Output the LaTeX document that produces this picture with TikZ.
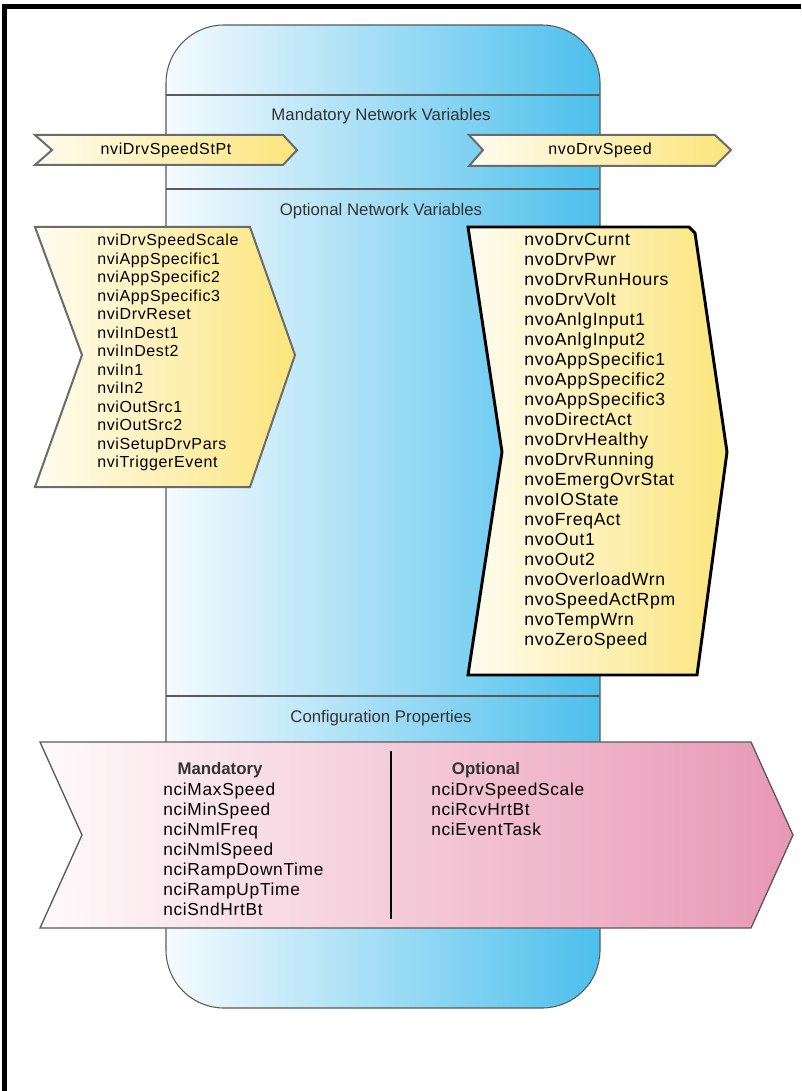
\documentclass[tikz,border=0pt]{standalone}
\usepackage{fontspec}
\setmainfont{Liberation Sans}
\newfontfamily\listfont[LetterSpace=4]{Liberation Sans}
\usetikzlibrary{positioning}
\definecolor{capleft}{HTML}{F6FBFE}
\definecolor{capright}{HTML}{4CBFEC}
\definecolor{yelleft}{HTML}{FFFCF0}
\definecolor{yelright}{HTML}{FBE57C}
\definecolor{pinkleft}{HTML}{FFFAFB}
\definecolor{pinkright}{HTML}{E898B4}
\definecolor{edgegray}{HTML}{5A5A5A}
\definecolor{headgray}{HTML}{333333}
\begin{document}
\begin{tikzpicture}[x=0.75pt,y=-0.75pt,
    capsule/.style={draw=edgegray,line width=0.8pt,left color=capleft,right color=capright,rounded corners=43.5pt},
    head/.style={anchor=base,inner sep=0pt,text=headgray,font=\fontsize{12.6pt}{15pt}\selectfont},
    yelarrow/.style={draw=edgegray!90,line width=1.5pt,left color=yelleft,right color=yelright},
    pinkarrow/.style={draw=edgegray,line width=1pt,left color=pinkleft,right color=pinkright},
    nvlist/.style={anchor=north west,inner sep=0pt,align=left}]
    \useasboundingbox (0,0) rectangle (801,1091);
    % frame
    \draw[line width=3.6pt] (4.5,1091) -- (4.5,6.5) -- (801,6.5);
    % device body
    \path[capsule] (166,25) rectangle (600,1008);
    \draw[edgegray,line width=0.8pt] (166,95) -- (600,95);
    \draw[edgegray,line width=0.8pt] (166,189) -- (600,189);
    \draw[edgegray,line width=0.8pt] (166,696) -- (600,696);
    \node[head] (mandnv) at (381,121) {Mandatory Network Variables};
    \node[head] (optnv) at (381,215) {Optional Network Variables};
    \node[head] (cfgprop) at (381,722) {Configuration Properties};
    % mandatory variables
    \path[yelarrow] (35,135) -- (283,135) -- (297,150) -- (283,165) -- (35,165) -- (52,150) -- cycle;
    \path[yelarrow] (469,135) -- (715,135) -- (731,150) -- (715,166) -- (469,166) -- (483,150) -- cycle;
    \node[anchor=base,inner sep=0pt,font=\listfont\fontsize{12pt}{14pt}\selectfont] (spdstpt) at (166,155) {nviDrvSpeedStPt};
    \node[anchor=base,inner sep=0pt,font=\listfont\fontsize{12pt}{14pt}\selectfont] (drvspd) at (600,155) {nvoDrvSpeed};
    % optional inputs
    \path[yelarrow] (35,227) -- (250,227) -- (295,355) -- (250,487) -- (35,487) -- (82,355) -- cycle;
    \node[nvlist,font=\listfont\fontsize{12pt}{13.875pt}\selectfont] (nvilist) at (97,234)
        {nviDrvSpeedScale\\nviAppSpecific1\\nviAppSpecific2\\nviAppSpecific3\\nviDrvReset\\nviInDest1\\nviInDest2\\nviIn1\\nviIn2\\nviOutSrc1\\nviOutSrc2\\nviSetupDrvPars\\nviTriggerEvent};
    % optional outputs
    \path[yelarrow,draw=black,line width=2.2pt] (468,227) -- (689,227) -- (695,233) -- (727,452) -- (697,675) -- (468,675) -- (502,452) -- cycle;
    \node[nvlist,font=\listfont\fontsize{13.2pt}{15pt}\selectfont] (nvolist) at (524,233)
        {nvoDrvCurnt\\nvoDrvPwr\\nvoDrvRunHours\\nvoDrvVolt\\nvoAnlgInput1\\nvoAnlgInput2\\nvoAppSpecific1\\nvoAppSpecific2\\nvoAppSpecific3\\nvoDirectAct\\nvoDrvHealthy\\nvoDrvRunning\\nvoEmergOvrStat\\nvoIOState\\nvoFreqAct\\nvoOut1\\nvoOut2\\nvoOverloadWrn\\nvoSpeedActRpm\\nvoTempWrn\\nvoZeroSpeed};
    % configuration properties
    \path[pinkarrow] (40,742) -- (751,742) -- (793,835) -- (751,928) -- (40,928) -- (82,835) -- cycle;
    \draw[line width=0.8pt] (391,751) -- (391,919);
    \node[anchor=base,inner sep=0pt,font=\bfseries\fontsize{12.6pt}{15pt}\selectfont,text=headgray] (cfgmand) at (220,774) {Mandatory};
    \node[anchor=base,inner sep=0pt,font=\bfseries\fontsize{12.6pt}{15pt}\selectfont,text=headgray] (cfgopt) at (486,774) {Optional};
    \node[nvlist,font=\listfont\fontsize{13pt}{15pt}\selectfont] (ncimand) at (163,783)
        {nciMaxSpeed\\nciMinSpeed\\nciNmlFreq\\nciNmlSpeed\\nciRampDownTime\\nciRampUpTime\\nciSndHrtBt};
    \node[nvlist,font=\listfont\fontsize{13pt}{15pt}\selectfont] (nciopt) at (431,783)
        {nciDrvSpeedScale\\nciRcvHrtBt\\nciEventTask};
\end{tikzpicture}
\end{document}
